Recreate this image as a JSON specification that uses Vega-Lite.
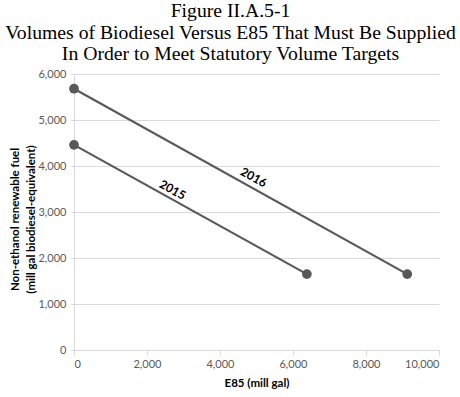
{
  "$schema": "https://vega.github.io/schema/vega-lite/v6.json",
  "width": 365,
  "height": 276,
  "autosize": "none",
  "padding": {"left": 74, "top": 74, "right": 21, "bottom": 47},
  "background": "white",
  "title": {
    "text": ["Figure II.A.5-1", "Volumes of Biodiesel Versus E85 That Must Be Supplied", "In Order to Meet Statutory Volume Targets"],
    "font": "Liberation Serif",
    "fontSize": 19.7,
    "fontWeight": "normal",
    "color": "black",
    "lineHeight": 21.5,
    "anchor": "middle",
    "baseline": "alphabetic",
    "dx": -26,
    "dy": 27,
    "offset": 15
  },
  "config": {
    "view": {"stroke": null},
    "axis": {
      "labelFont": "Lato",
      "titleFont": "Lato",
      "labelColor": "#595959",
      "labelFontSize": 11,
      "titleFontSize": 11.5,
      "titleFontWeight": "bold",
      "titleColor": "black",
      "titleLineHeight": 16,
      "gridColor": "#d9d9d9",
      "domainColor": "#d9d9d9",
      "tickColor": "#d9d9d9"
    }
  },
  "datasets": {
    "lines": [
      {"year": "2015", "e85": 0, "fuel": 4460},
      {"year": "2015", "e85": 6380, "fuel": 1650},
      {"year": "2016", "e85": 0, "fuel": 5680},
      {"year": "2016", "e85": 9130, "fuel": 1650}
    ],
    "labels": [
      {"year": "2015", "e85": 2700, "fuel": 3480},
      {"year": "2016", "e85": 4920, "fuel": 3750}
    ]
  },
  "layer": [
    {
      "data": {"name": "lines"},
      "mark": {"type": "line", "color": "#595959", "strokeWidth": 2.2, "point": {"filled": true, "size": 95, "color": "#595959", "opacity": 1}},
      "encoding": {
        "x": {
          "field": "e85", "type": "quantitative",
          "scale": {"domain": [0, 10000], "nice": false},
          "axis": {"title": "E85 (mill gal)", "values": [0, 2000, 4000, 6000, 8000, 10000], "format": ",.0f", "grid": false, "tickSize": 5, "labelPadding": 3, "titlePadding": 8}
        },
        "y": {
          "field": "fuel", "type": "quantitative",
          "scale": {"domain": [0, 6000], "nice": false},
          "axis": {"title": ["Non-ethanol renewable fuel", "(mill gal biodiesel-equivalent)"], "values": [0, 1000, 2000, 3000, 4000, 5000, 6000], "format": ",.0f", "tickSize": 3, "labelPadding": 5, "titlePadding": 1, "titleY": 145}
        },
        "detail": {"field": "year"}
      }
    },
    {
      "data": {"name": "labels"},
      "mark": {"type": "text", "font": "Lato", "fontSize": 12, "fontWeight": "bold", "angle": 29, "color": "black"},
      "encoding": {
        "x": {"field": "e85", "type": "quantitative"},
        "y": {"field": "fuel", "type": "quantitative"},
        "text": {"field": "year"}
      }
    }
  ]
}
